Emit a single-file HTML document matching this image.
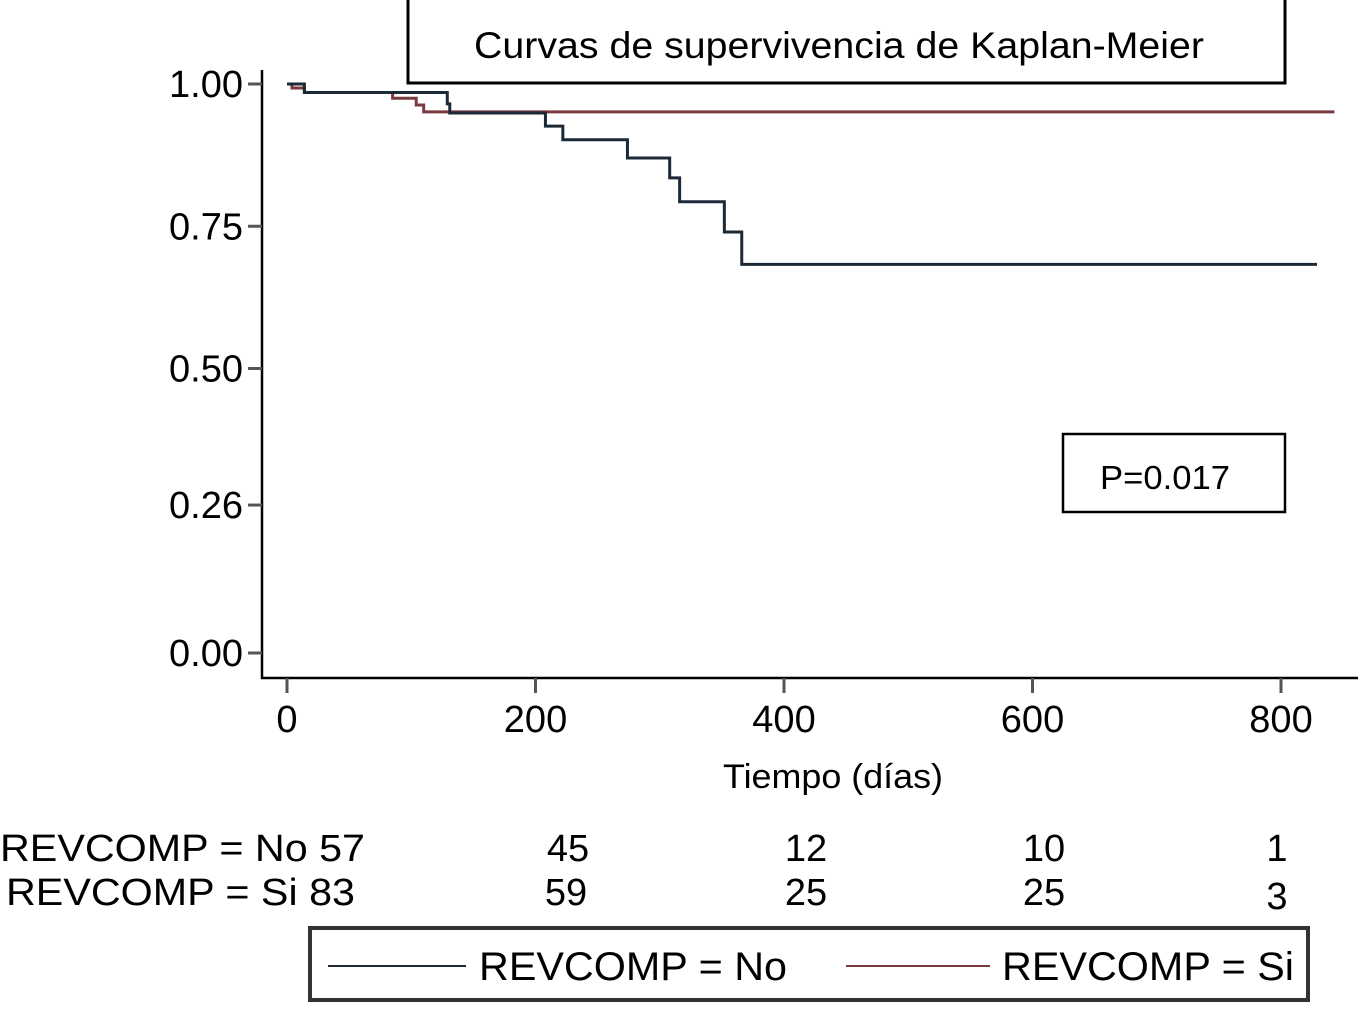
<!DOCTYPE html>
<html><head><meta charset="utf-8"><style>
html,body{margin:0;padding:0;background:#fff;}
svg{display:block;font-family:"Liberation Sans",sans-serif;}
</style></head><body>
<svg id="chart" width="1368" height="1015" viewBox="0 0 1368 1015">
<rect x="0" y="0" width="1368" height="1015" fill="#fff"/>
<g>
<rect x="408" y="-2" width="877" height="85" fill="#fff" stroke="#000" stroke-width="3"/>
<text x="474" y="58" font-size="37" textLength="730" lengthAdjust="spacingAndGlyphs">Curvas de supervivencia de Kaplan-Meier</text>
</g>
<g id="axes"></g>
<g id="curves"></g>
<g>
<rect x="1063" y="434" width="222" height="78" fill="#fff" stroke="#000" stroke-width="2.5"/>
<text x="1100" y="489" font-size="33" textLength="130" lengthAdjust="spacingAndGlyphs">P=0.017</text>
</g>
<text x="723" y="788" font-size="34" textLength="220" lengthAdjust="spacingAndGlyphs">Tiempo (días)</text>
<g id="risk"></g>
<g>
<rect x="310" y="928" width="998" height="72" fill="#fff" stroke="#333" stroke-width="4"/>
<line x1="328" y1="966" x2="466" y2="966" stroke="#1c2a38" stroke-width="2"/>
<text x="479" y="980" font-size="40" textLength="308" lengthAdjust="spacingAndGlyphs">REVCOMP = No</text>
<line x1="846" y1="966" x2="990" y2="966" stroke="#7a3a40" stroke-width="2"/>
<text x="1002" y="980" font-size="40" textLength="292" lengthAdjust="spacingAndGlyphs">REVCOMP = Si</text>
</g>
</svg>
<script>
const yTicks=[1.00,0.75,0.50,0.26,0.00];
const yTickLabels=["1.00","0.75","0.50","0.26","0.00"];
const xTicks=[0,200,400,600,800];
const noTimes=[0,14,129,131,208,222,274,308,316,352,366,829];
const noSurv=[1.0,0.985,0.965,0.949,0.926,0.902,0.870,0.835,0.793,0.740,0.683,0.683];
const siTimes=[0,4,14,85,104,110,843];
const siSurv=[1.0,0.993,0.985,0.975,0.963,0.951,0.951];
const riskNo=[57,45,12,10,1];
const riskSi=[83,59,25,25,3];
const NS="http://www.w3.org/2000/svg";
const X=t=>287+t*1.2425;
const Y=v=>653-v*569;
function mk(tag,attrs,parent){const e=document.createElementNS(NS,tag);for(const k in attrs)e.setAttribute(k,attrs[k]);parent.appendChild(e);return e;}
const axes=document.getElementById('axes');
let a=mk('line',{x1:262,y1:70,x2:262,y2:679,stroke:'#000','stroke-width':2.5},axes);


a=mk('line',{x1:261,y1:678,x2:1358,y2:678,stroke:'#000','stroke-width':2.5},axes);


yTicks.forEach((v,i)=>{
 const t=mk('line',{x1:248,y1:Y(v),x2:262,y2:Y(v),stroke:'#555','stroke-width':3},axes);
 
 
 const l=mk('text',{x:243,y:Y(v)+13,'font-size':38,'text-anchor':'end'},axes);
 l.textContent=yTickLabels[i];
 
 
});
xTicks.forEach(v=>{
 const t=mk('line',{x1:X(v),y1:678,x2:X(v),y2:693,stroke:'#555','stroke-width':3},axes);
 
 
 const l=mk('text',{x:X(v),y:732,'font-size':38,'text-anchor':'middle'},axes);
 l.textContent=String(v);
 
 
});
function stepPath(ts,ss){let d='M'+X(ts[0])+','+Y(ss[0]);for(let i=1;i<ts.length;i++){d+=' H'+X(ts[i])+' V'+Y(ss[i]);}return d;}
const curves=document.getElementById('curves');
let p=mk('path',{d:stepPath(siTimes,siSurv),fill:'none',stroke:'#7a3a40','stroke-width':3},curves);


p=mk('path',{d:stepPath(noTimes,noSurv),fill:'none',stroke:'#1c2a38','stroke-width':3},curves);


const risk=document.getElementById('risk');
let lab=mk('text',{x:0,y:861,'font-size':38,textLength:365,lengthAdjust:'spacingAndGlyphs'},risk);
lab.textContent='REVCOMP = No '+riskNo[0];


lab=mk('text',{x:6,y:905,'font-size':38,textLength:349,lengthAdjust:'spacingAndGlyphs'},risk);
lab.textContent='REVCOMP = Si '+riskSi[0];


const rxNo=[0,568,806,1044,1277];
const rxSi=[0,566,806,1044,1277];
for(let i=1;i<riskNo.length;i++){
 let e=mk('text',{x:rxNo[i],y:861,'font-size':38,'text-anchor':'middle'},risk);
 e.textContent=String(riskNo[i]);
 
 
 e=mk('text',{x:rxSi[i],y:i===4?909:905,'font-size':38,'text-anchor':'middle'},risk);
 e.textContent=String(riskSi[i]);
 
 
}
</script>
</body></html>
